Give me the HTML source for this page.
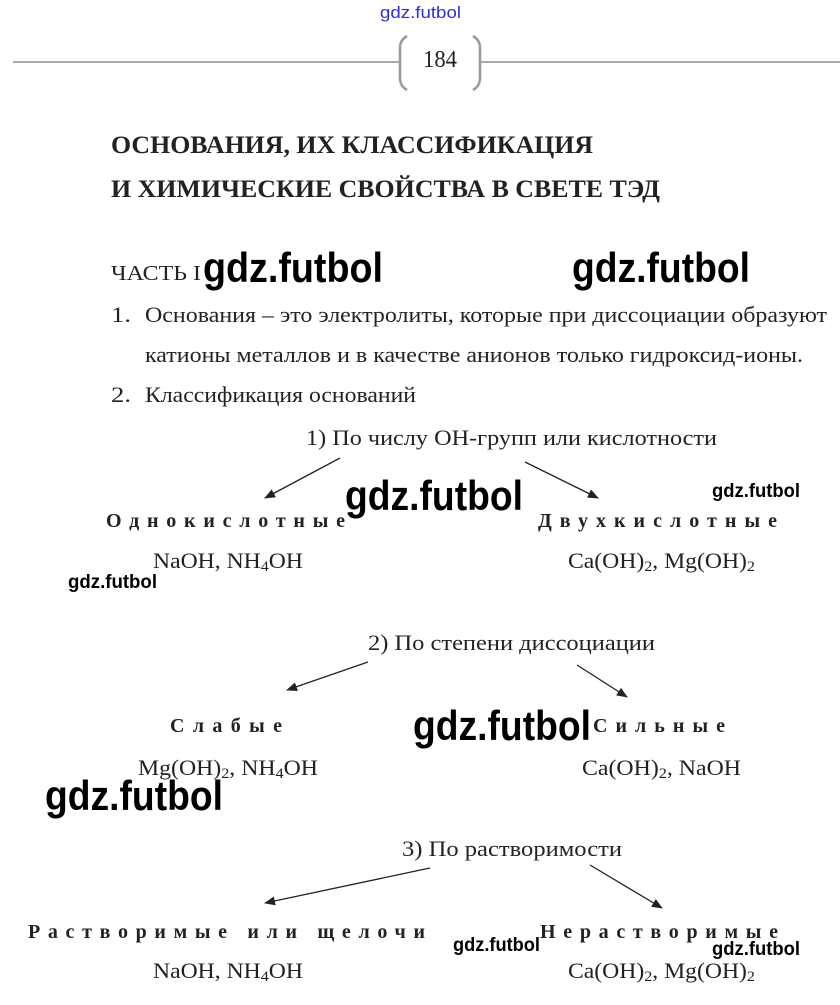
<!DOCTYPE html>
<html><head><meta charset="utf-8"><style>html,body{margin:0;padding:0;background:#fff}svg{display:block}</style></head>
<body>
<svg width="840" height="1005" viewBox="0 0 840 1005" xmlns="http://www.w3.org/2000/svg">
<defs><marker id="a" markerWidth="11" markerHeight="9" refX="10" refY="4.5" orient="auto" markerUnits="userSpaceOnUse"><path d="M0,0 L11,4.5 L0,9 z" fill="#222"/></marker></defs>
<g font-family="Liberation Serif, serif" fill="#222">
<text x="380" y="18" font-family="Liberation Sans, sans-serif" font-size="17" fill="#3030d0" textLength="81" lengthAdjust="spacingAndGlyphs">gdz.futbol</text>
<line x1="13" y1="62" x2="400" y2="62" stroke="#aaa" stroke-width="2"/>
<line x1="480" y1="62" x2="840" y2="62" stroke="#aaa" stroke-width="2"/>
<path d="M407,36 Q400,40 400,48 L400,78 Q400,86 407,90" fill="none" stroke="#999" stroke-width="2.5"/>
<path d="M473,36 Q480,40 480,48 L480,78 Q480,86 473,90" fill="none" stroke="#999" stroke-width="2.5"/>
<text x="440" y="67" font-size="24" text-anchor="middle" textLength="34" lengthAdjust="spacingAndGlyphs">184</text>
<text x="111" y="153" font-size="25" font-weight="bold" textLength="482" lengthAdjust="spacingAndGlyphs">ОСНОВАНИЯ, ИХ КЛАССИФИКАЦИЯ</text>
<text x="111" y="197" font-size="25" font-weight="bold" textLength="549" lengthAdjust="spacingAndGlyphs">И ХИМИЧЕСКИЕ СВОЙСТВА В СВЕТЕ ТЭД</text>
<text x="111" y="280" font-size="21" textLength="90" lengthAdjust="spacingAndGlyphs">ЧАСТЬ I</text>
<text x="111" y="322" font-size="22" textLength="20" lengthAdjust="spacingAndGlyphs">1.</text>
<text x="145" y="322" font-size="22" textLength="682" lengthAdjust="spacingAndGlyphs">Основания – это электролиты, которые при диссоциации образуют</text>
<text x="145" y="362" font-size="22" textLength="658" lengthAdjust="spacingAndGlyphs">катионы металлов и в качестве анионов только гидроксид-ионы.</text>
<text x="111" y="402" font-size="22" textLength="20" lengthAdjust="spacingAndGlyphs">2.</text>
<text x="145" y="402" font-size="22" textLength="271" lengthAdjust="spacingAndGlyphs">Классификация оснований</text>
<text x="306" y="445" font-size="22" textLength="411" lengthAdjust="spacingAndGlyphs">1)  По числу ОН-групп или кислотности</text>
<line x1="340" y1="458" x2="265" y2="498" stroke="#222" stroke-width="1.3" marker-end="url(#a)"/>
<line x1="525" y1="462" x2="598" y2="498" stroke="#222" stroke-width="1.3" marker-end="url(#a)"/>
<text x="106" y="527" font-size="20" font-weight="bold" textLength="239" lengthAdjust="spacing">Однокислотные</text>
<text x="538" y="527" font-size="20" font-weight="bold" textLength="239" lengthAdjust="spacing">Двухкислотные</text>
<text x="153" y="568" font-size="22" textLength="150" lengthAdjust="spacingAndGlyphs">NaOH, NH<tspan font-size="15" dy="3">4</tspan><tspan dy="-3">OH</tspan></text>
<text x="568" y="568" font-size="22" textLength="187" lengthAdjust="spacingAndGlyphs">Ca(OH)<tspan font-size="15" dy="3">2</tspan><tspan dy="-3">, Mg(OH)</tspan><tspan font-size="15" dy="3">2</tspan></text>
<text x="368" y="650" font-size="22" textLength="287" lengthAdjust="spacingAndGlyphs">2)  По степени диссоциации</text>
<line x1="368" y1="662" x2="287" y2="690" stroke="#222" stroke-width="1.3" marker-end="url(#a)"/>
<line x1="577" y1="665" x2="627" y2="697" stroke="#222" stroke-width="1.3" marker-end="url(#a)"/>
<text x="170" y="732" font-size="20" font-weight="bold" textLength="112" lengthAdjust="spacing">Слабые</text>
<text x="593" y="732" font-size="20" font-weight="bold" textLength="132" lengthAdjust="spacing">Сильные</text>
<text x="138" y="775" font-size="22" textLength="180" lengthAdjust="spacingAndGlyphs">Mg(OH)<tspan font-size="15" dy="3">2</tspan><tspan dy="-3">, NH</tspan><tspan font-size="15" dy="3">4</tspan><tspan dy="-3">OH</tspan></text>
<text x="582" y="775" font-size="22" textLength="159" lengthAdjust="spacingAndGlyphs">Ca(OH)<tspan font-size="15" dy="3">2</tspan><tspan dy="-3">, NaOH</tspan></text>
<text x="402" y="856" font-size="22" textLength="220" lengthAdjust="spacingAndGlyphs">3)  По растворимости</text>
<line x1="430" y1="868" x2="265" y2="903" stroke="#222" stroke-width="1.3" marker-end="url(#a)"/>
<line x1="590" y1="865" x2="662" y2="908" stroke="#222" stroke-width="1.3" marker-end="url(#a)"/>
<text x="28" y="938" font-size="20" font-weight="bold" textLength="397" lengthAdjust="spacing">Растворимые или щелочи</text>
<text x="540" y="938" font-size="20" font-weight="bold" textLength="238" lengthAdjust="spacing">Нерастворимые</text>
<text x="153" y="978" font-size="22" textLength="150" lengthAdjust="spacingAndGlyphs">NaOH, NH<tspan font-size="15" dy="3">4</tspan><tspan dy="-3">OH</tspan></text>
<text x="568" y="978" font-size="22" textLength="187" lengthAdjust="spacingAndGlyphs">Ca(OH)<tspan font-size="15" dy="3">2</tspan><tspan dy="-3">, Mg(OH)</tspan><tspan font-size="15" dy="3">2</tspan></text>
</g>
<g font-family="Liberation Sans, sans-serif" fill="#000" font-weight="bold">
<text x="203" y="282" font-size="42" textLength="180" lengthAdjust="spacingAndGlyphs">gdz.futbol</text>
<text x="572" y="282" font-size="42" textLength="178" lengthAdjust="spacingAndGlyphs">gdz.futbol</text>
<text x="345" y="510" font-size="42" textLength="178" lengthAdjust="spacingAndGlyphs">gdz.futbol</text>
<text x="712" y="497" font-size="19" textLength="88" lengthAdjust="spacingAndGlyphs">gdz.futbol</text>
<text x="68" y="588" font-size="19" textLength="89" lengthAdjust="spacingAndGlyphs">gdz.futbol</text>
<text x="413" y="740" font-size="42" textLength="178" lengthAdjust="spacingAndGlyphs">gdz.futbol</text>
<text x="45" y="810" font-size="42" textLength="178" lengthAdjust="spacingAndGlyphs">gdz.futbol</text>
<text x="453" y="951" font-size="19" textLength="87" lengthAdjust="spacingAndGlyphs">gdz.futbol</text>
<text x="712" y="955" font-size="19" textLength="88" lengthAdjust="spacingAndGlyphs">gdz.futbol</text>
</g>
</svg>
</body></html>
